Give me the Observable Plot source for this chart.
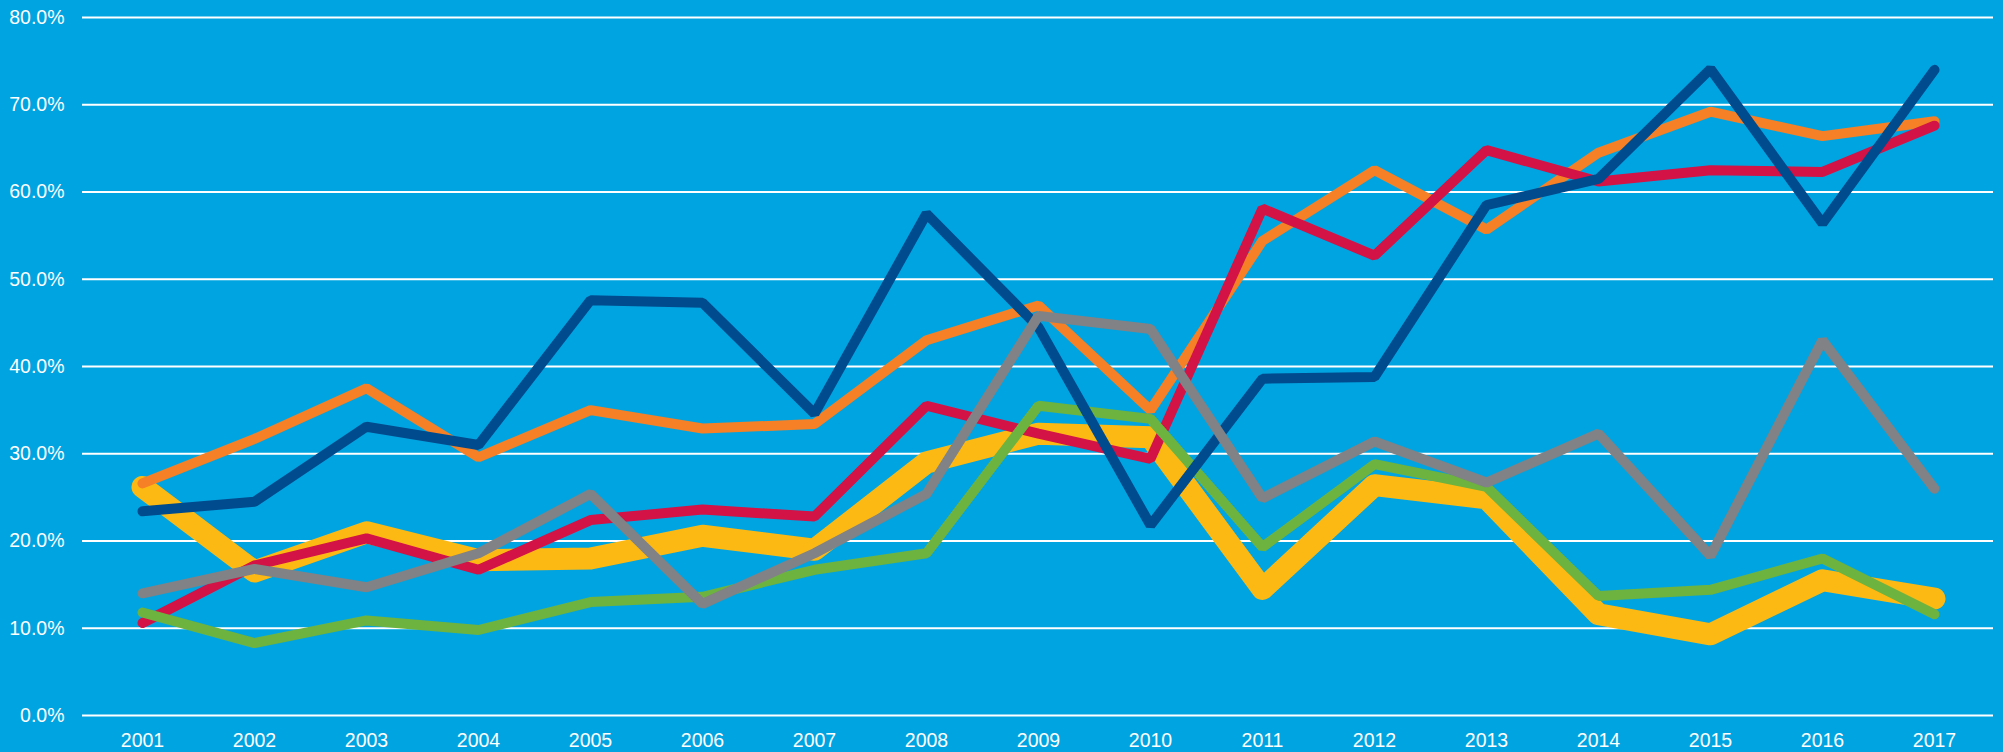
<!DOCTYPE html>
<html>
<head>
<meta charset="utf-8">
<script src="https://cdn.jsdelivr.net/npm/d3@7"></script>
<script src="https://cdn.jsdelivr.net/npm/@observablehq/plot@0.6"></script>
<style>
  html, body { margin: 0; padding: 0; background: #00a4e1; }
  #chart { width: 2003px; height: 752px; }
</style>
</head>
<body>
<div id="chart"></div>
<script>
const years = [2001, 2002, 2003, 2004, 2005, 2006, 2007, 2008, 2009, 2010, 2011, 2012, 2013, 2014, 2015, 2016, 2017];
const yTicks = [0, 10, 20, 30, 40, 50, 60, 70, 80];

const yellowSeries = [26.2, 16.5, 21.0, 17.8, 18.0, 20.6, 19.0, 29.0, 32.3, 31.9, 14.5, 26.4, 24.9, 11.6, 9.3, 15.5, 13.4];
const orangeSeries = [26.6, 31.7, 37.5, 29.6, 35.0, 32.9, 33.4, 43.0, 47.0, 35.0, 54.4, 62.5, 55.7, 64.5, 69.2, 66.4, 68.1];
const redSeries    = [10.6, 17.2, 20.3, 16.7, 22.4, 23.6, 22.8, 35.5, 32.3, 29.4, 58.1, 52.7, 64.8, 61.2, 62.5, 62.3, 67.6];
const greenSeries  = [11.8, 8.3, 10.9, 9.8, 13.0, 13.6, 16.7, 18.6, 35.5, 34.0, 19.3, 28.8, 26.2, 13.7, 14.4, 18.0, 11.6];
const blueSeries   = [23.4, 24.5, 33.1, 31.0, 47.6, 47.3, 34.6, 57.5, 44.5, 21.8, 38.6, 38.8, 58.5, 61.5, 74.1, 56.4, 74.0];
const graySeries   = [14.0, 16.8, 14.7, 18.6, 25.4, 12.8, 18.6, 25.4, 45.8, 44.3, 24.9, 31.4, 26.7, 32.3, 18.3, 43.0, 26.0];

const seriesList = [
  {name: "yellow", values: yellowSeries, color: "#fdb913", width: 22, join: "round"},
  {name: "orange", values: orangeSeries, color: "#f58025", width: 10, join: "miter"},
  {name: "red",    values: redSeries,    color: "#d31245", width: 10, join: "miter"},
  {name: "green",  values: greenSeries,  color: "#6db33f", width: 10, join: "miter"},
  {name: "blue",   values: blueSeries,   color: "#004b8d", width: 10, join: "miter"},
  {name: "gray",   values: graySeries,   color: "#808285", width: 10, join: "miter"}
];

const lineMarks = seriesList.map(s =>
  Plot.lineY(years.map((y, i) => ({year: y, value: s.values[i]})), {
    x: "year", y: "value",
    stroke: s.color, strokeWidth: s.width,
    strokeLinecap: "round", strokeLinejoin: s.join
  })
);

const chart = Plot.plot({
  width: 2003,
  height: 752,
  marginLeft: 82,
  marginRight: 10,
  marginTop: 17,
  marginBottom: 37,
  style: {
    background: "#00a4e1",
    color: "white",
    fontFamily: "'Liberation Sans', Arial, sans-serif",
    fontSize: "19.5px",
    overflow: "visible"
  },
  x: {type: "point", domain: years, padding: 0.5, label: null},
  y: {domain: [0, 80], label: null},
  marks: [
    Plot.ruleY(yTicks, {stroke: "white", strokeWidth: 2}),
    Plot.axisY({ticks: yTicks, tickSize: 0, tickPadding: 18, tickFormat: d => d.toFixed(1) + "%", label: null, fontSize: 19.5}),
    Plot.axisX({tickSize: 0, tickPadding: 18, tickFormat: d => String(d), label: null, fontSize: 19.5}),
    ...lineMarks
  ]
});
document.getElementById("chart").appendChild(chart);
</script>
</body>
</html>
